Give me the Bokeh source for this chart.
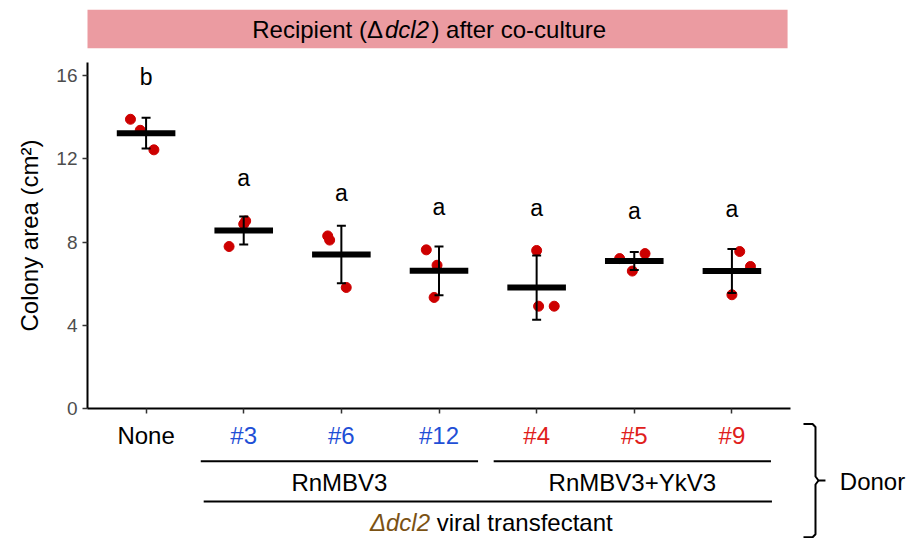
import numpy as np
from bokeh.plotting import figure
from bokeh.layouts import column
from bokeh.models import Range1d, FixedTicker
from bokeh.core.properties import value
from bokeh.embed import file_html
from bokeh.resources import INLINE

# ---------------- data ----------------
categories = ["None", "#3", "#6", "#12", "#4", "#5", "#9"]
label_colors = ["#000000", "#1F4FD6", "#1F4FD6", "#1F4FD6", "#E0201B", "#E0201B", "#E0201B"]
letters = ["b", "a", "a", "a", "a", "a", "a"]

area_none = [13.91, 13.38, 12.44]
area_3 = [7.79, 8.87, 9.02]
area_6 = [8.30, 8.10, 5.82]
area_12 = [7.63, 6.89, 5.34]
area_4 = [7.60, 4.92, 4.92]
area_5 = [7.21, 7.45, 6.61]
area_9 = [7.55, 6.83, 5.47]

jit_none = [-0.16, -0.06, 0.08]
jit_3 = [-0.15, 0.00, 0.02]
jit_6 = [-0.14, -0.12, 0.05]
jit_12 = [-0.13, -0.02, -0.05]
jit_4 = [0.00, 0.02, 0.18]
jit_5 = [-0.15, 0.11, -0.02]
jit_9 = [0.08, 0.19, 0.00]

y_ticks = [0, 4, 8, 12, 16]
group_names = ["RnMBV3", "RnMBV3+YkV3"]
group_first = [1, 4]
group_last = [3, 6]

groups = [area_none, area_3, area_6, area_12, area_4, area_5, area_9]
jitters = [jit_none, jit_3, jit_6, jit_12, jit_4, jit_5, jit_9]

# ---------------- layout constants ----------------
FONT = value("Liberation Sans")
W = 910
LEFT = 87
PANEL_W = 703
X0, X1 = -0.6, 6.6
PXU = PANEL_W / (X1 - X0)
Y_TOP = 16.64
POINT_RED = "#CD0000"
x_shared = Range1d(X0, X0 + (W - LEFT) / PXU)

# ---------------- strip (panel header) ----------------
pA = figure(width=W, height=62, x_range=x_shared, y_range=Range1d(39, 0),
            output_backend="svg", toolbar_location=None,
            x_axis_location=None, y_axis_location=None,
            min_border_left=LEFT, min_border_right=0,
            min_border_top=9, min_border_bottom=14, outline_line_color=None)
pA.grid.visible = False
pA.quad(left=[X0 - 0.04], right=[X1 - 0.03], bottom=[39], top=[0],
        fill_color="#EB9BA1", line_color=None)
common = dict(text_font=FONT, text_font_size="24px", text_color="#000000",
              text_baseline="middle")
STRIP_Y = 19.7
pA.text(x=[2.426], y=[STRIP_Y], text=["Recipient (\u0394"], text_align="right", **common)
pA.text(x=[2.672], y=[STRIP_Y], text=["dcl2"], text_align="center",
        text_font_style="italic", **common)
pA.text(x=[2.922], y=[STRIP_Y], text=[") after co-culture"], text_align="left", **common)

# ---------------- main panel ----------------
pB = figure(width=W, height=360, x_range=x_shared, y_range=Range1d(0, Y_TOP),
            output_backend="svg", toolbar_location=None,
            min_border_left=LEFT, min_border_right=0,
            min_border_top=0, min_border_bottom=14, outline_line_color=None)
pB.grid.visible = False

idx = np.arange(len(categories))
xs, ys = [], []
for i, (vals, jit) in enumerate(zip(groups, jitters)):
    xs += [i + j for j in jit]
    ys += vals
pB.scatter(xs, ys, size=10, fill_color=POINT_RED, line_color=POINT_RED)

means = np.array([np.mean(v) for v in groups])
sds = np.array([np.std(v, ddof=1) for v in groups])
pB.segment(x0=idx, y0=means - sds, x1=idx, y1=means + sds, line_color="black", line_width=2)
cap = 0.046
pB.segment(x0=idx - cap, y0=means + sds, x1=idx + cap, y1=means + sds, line_color="black", line_width=2)
pB.segment(x0=idx - cap, y0=means - sds, x1=idx + cap, y1=means - sds, line_color="black", line_width=2)
pB.segment(x0=idx - 0.3, y0=means, x1=idx + 0.3, y1=means, line_color="black",
           line_width=6, line_cap="butt")

tops = [max(v) + 2.05 for v in groups]
pB.text(x=idx, y=tops, text=letters, text_align="center", text_baseline="middle",
        text_font=FONT, text_font_size="23px", text_color="#000000")

yax = pB.yaxis[0]
yax.ticker = FixedTicker(ticks=y_ticks)
yax.axis_label = "Colony area (cm\u00b2)"
yax.axis_label_text_font = "Liberation Sans"
yax.axis_label_text_font_size = "24px"
yax.axis_label_text_font_style = "normal"
yax.axis_label_text_color = "#000000"
yax.axis_label_standoff = 10
yax.major_label_text_font = "Liberation Sans"
yax.major_label_text_font_size = "19px"
yax.major_label_text_color = "#4D4D4D"
yax.major_label_standoff = 5
yax.major_tick_out = 5
yax.major_tick_in = 0
yax.minor_tick_out = 0
yax.minor_tick_in = 0
yax.axis_line_width = 2
yax.major_tick_line_width = 1.5
yax.major_tick_line_color = "#333333"

xax = pB.xaxis[0]
xax.bounds = (X0, X1)
xax.ticker = FixedTicker(ticks=list(range(len(categories))))
xax.major_label_overrides = {i: "" for i in range(len(categories))}
xax.major_label_text_font_size = "0px"
xax.major_label_standoff = 0
xax.major_tick_out = 5
xax.major_tick_in = 0
xax.minor_tick_out = 0
xax.minor_tick_in = 0
xax.axis_line_width = 2
xax.major_tick_line_width = 1.5
xax.major_tick_line_color = "#333333"

# ---------------- lower annotation panel ----------------
HC = 116
pC = figure(width=W, height=HC, x_range=x_shared, y_range=Range1d(HC, 0),
            output_backend="svg", toolbar_location=None,
            x_axis_location=None, y_axis_location=None,
            min_border_left=LEFT, min_border_right=0,
            min_border_top=0, min_border_bottom=0, outline_line_color=None)
pC.grid.visible = False

LAB_Y, LINE1_Y, GRP_Y, LINE2_Y, BOT_Y = 13.0, 38.7, 59.7, 79, 99.7
txt = dict(text_baseline="middle", text_font=FONT, text_font_size="24px")
pC.text(x=idx, y=LAB_Y, text=categories, text_color=label_colors, text_align="center", **txt)

g0 = np.array(group_first) - 0.44
g1 = np.array(group_last) + 0.40
pC.segment(x0=g0, y0=LINE1_Y, x1=g1, y1=LINE1_Y, line_color="black", line_width=2)
pC.text(x=(g0 + g1) / 2, y=GRP_Y, text=group_names, text_align="center",
        text_color="#000000", **txt)
pC.segment(x0=[group_first[0] - 0.41], y0=LINE2_Y, x1=[group_last[-1] + 0.41], y1=LINE2_Y,
           line_color="black", line_width=2)
pC.text(x=[2.908], y=[BOT_Y], text=["\u0394dcl2"], text_align="right",
        text_font_style="italic", text_color="#7B5214", **txt)
pC.text(x=[2.976], y=[BOT_Y], text=["viral transfectant"], text_align="left",
        text_color="#000000", **txt)

# curly bracket
xv, xh, xk, xt = 6.856, 6.733, 6.826, 6.958
xm = 6.887
pC.multi_line(xs=[[xh, xk, xv, xv, xm, xt], [xm, xv, xv, xk, xh]],
              ys=[[1.5, 1.5, 4.5, 54, 58, 58], [58, 62, 111.7, 114.7, 114.7]],
              line_color="black", line_width=2)
pC.text(x=[7.105], y=[59.0], text=["Donor"], text_align="left", text_color="#000000", **txt)

layout = column(pA, pB, pC, spacing=0)
open("out.html", "w").write(file_html(layout, INLINE))
